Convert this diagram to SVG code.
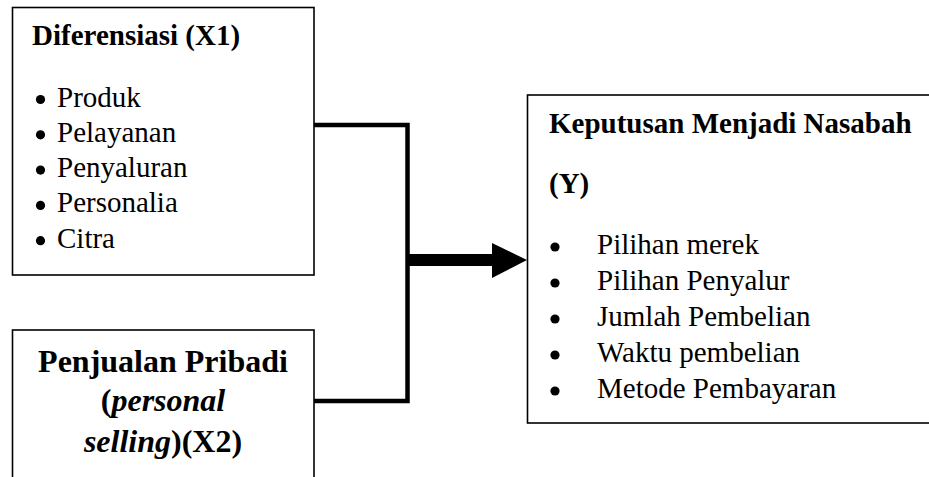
<svg xmlns="http://www.w3.org/2000/svg" width="929" height="477" viewBox="0 0 929 477">
<style>
.box{fill:#fff;stroke:#000;stroke-width:1.6}
text{font-family:'Liberation Serif',Tinos,'Times New Roman',serif;fill:#000}
.b{font-weight:bold}
.r29{font-size:29px}
.r32{font-size:32px}
.dot{fill:#000}
.conn{fill:none;stroke:#000;stroke-width:4.5;stroke-linejoin:miter}
</style>
<rect width="929" height="477" fill="#fff"/>
<g id="x1">
<rect class="box" x="12.5" y="7.5" width="301.5" height="267.5"/>
<text class="b r29" x="32" y="45">Diferensiasi (X1)</text>
<circle class="dot" cx="40.5" cy="99.5" r="4.6"/><text class="r29" x="57" y="106.5">Produk</text>
<circle class="dot" cx="40.5" cy="134.8" r="4.6"/><text class="r29" x="57" y="141.8">Pelayanan</text>
<circle class="dot" cx="40.5" cy="170.1" r="4.6"/><text class="r29" x="57" y="177.1">Penyaluran</text>
<circle class="dot" cx="40.5" cy="205.4" r="4.6"/><text class="r29" x="57" y="212.4">Personalia</text>
<circle class="dot" cx="40.5" cy="240.7" r="4.6"/><text class="r29" x="57" y="247.7">Citra</text>
</g>
<g id="x2">
<rect class="box" x="12.5" y="330" width="301.5" height="200"/>
<text class="b r32" x="163" y="372" text-anchor="middle">Penjualan Pribadi</text>
<text class="b r32" x="163" y="411" text-anchor="middle">(<tspan font-style="italic">personal</tspan></text>
<text class="b r32" x="163" y="452" text-anchor="middle"><tspan font-style="italic">selling</tspan>)(X2)</text>
</g>
<g id="y">
<rect class="box" x="527.5" y="95" width="500" height="328"/>
<text class="b r29" x="549" y="133">Keputusan Menjadi Nasabah</text>
<text class="b r29" x="549" y="193">(Y)</text>
<circle class="dot" cx="555" cy="247" r="4.6"/><text class="r29" x="597" y="254">Pilihan merek</text>
<circle class="dot" cx="555" cy="283" r="4.6"/><text class="r29" x="597" y="290">Pilihan Penyalur</text>
<circle class="dot" cx="555" cy="319" r="4.6"/><text class="r29" x="597" y="326">Jumlah Pembelian</text>
<circle class="dot" cx="555" cy="355" r="4.6"/><text class="r29" x="597" y="362">Waktu pembelian</text>
<circle class="dot" cx="555" cy="391" r="4.6"/><text class="r29" x="597" y="398">Metode Pembayaran</text>
</g>
<g id="connectors">
<path class="conn" d="M314,125 H407.5 V401 H314"/>
<rect x="407" y="254" width="86" height="12" fill="#000"/>
<polygon points="492,243 527,260 492,278" fill="#000"/>
</g>
</svg>
